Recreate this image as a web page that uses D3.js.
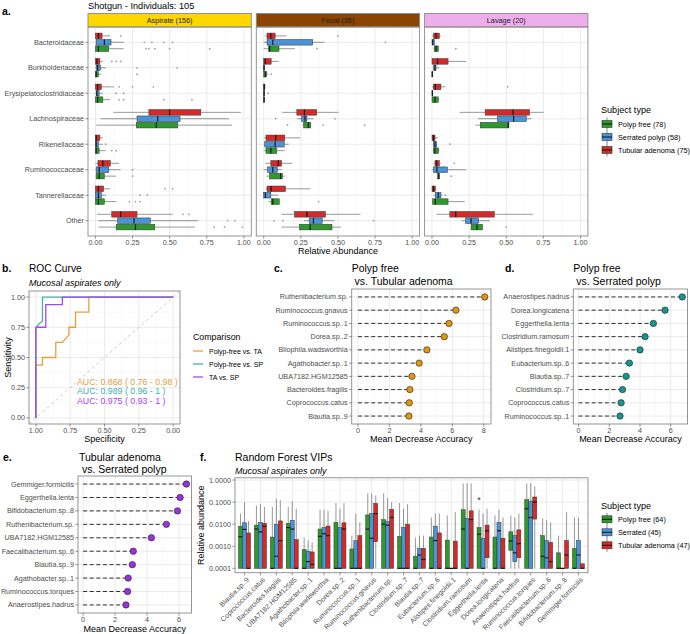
<!DOCTYPE html>
<html><head><meta charset="utf-8">
<script src="https://cdn.jsdelivr.net/npm/d3@7"></script>
<style>body{margin:0;background:#fff} text{font-family:"Liberation Sans",Arial,sans-serif}</style>
</head><body><svg id="c" width="690" height="634" xmlns="http://www.w3.org/2000/svg"></svg>
<script>
// ---------------- DATA ----------------
const families = ["Bacteroidaceae","Burkholderiaceae","Erysipelatoclostridiaceae","Lachnospiraceae","Rikenellaceae","Ruminococcaceae","Tannerellaceae","Other"];
const groupsA = ["Polyp free (78)","Serrated polyp (58)","Tubular adenoma (75)"];
const sitesA = ["Aspirate (156)","Fecal (35)","Lavage (20)"];
// per family: [PolypFree, Serrated, Tubular], each [lo, q1, median, q3, hi]
const aspirateBoxes = [
 [[0,0,0.02,0.09,0.19],[0,0.005,0.06,0.105,0.19],[0,0,0.02,0.045,0.1]],
 [[0,0,0.005,0.02,0.04],[0,0.005,0.015,0.035,0.07],[0,0,0.01,0.03,0.05]],
 [[0,0,0.015,0.05,0.1],[0,0.005,0.01,0.025,0.05],[0,0,0.015,0.04,0.11]],
 [[0.006,0.275,0.41,0.555,0.92],[0.035,0.28,0.42,0.57,0.9],[0.12,0.36,0.5,0.71,0.98]],
 [[0,0,0.005,0.025,0.07],[0,0,0.005,0.02,0.05],[0,0,0.005,0.03,0.05]],
 [[0,0.005,0.025,0.06,0.14],[0,0.005,0.025,0.09,0.17],[0,0.017,0.05,0.1,0.16]],
 [[0,0,0.02,0.06,0.14],[0,0,0.02,0.04,0.07],[0,0,0.02,0.055,0.1]],
 [[0.02,0.14,0.27,0.40,0.67],[0.02,0.15,0.26,0.37,0.69],[0.01,0.11,0.17,0.28,0.52]]
];
const fecalBoxes = [
 [[0,0.033,0.04,0.103,0.21],[0,0.022,0.061,0.33,0.41],[0.01,0.022,0.048,0.077,0.153]],
 [[0,0,0.01,0.02,0.03],[0,0,0.002,0.005,0.01],[0,0,0.01,0.05,0.1]],
 [[0,0,0.002,0.005,0.01],[0,0,0.002,0.006,0.01],[0,0,0.003,0.008,0.012]],
 [[0.26,0.269,0.30,0.317,0.32],[0.225,0.256,0.278,0.291,0.335],[0.125,0.223,0.274,0.357,0.503]],
 [[0,0.015,0.048,0.088,0.142],[0,0.007,0.077,0.138,0.168],[0,0.015,0.081,0.142,0.247]],
 [[0.018,0.039,0.114,0.125,0.142],[0,0.026,0.061,0.092,0.12],[0.011,0.048,0.098,0.12,0.193]],
 [[0.033,0.05,0.061,0.105,0.105],[0,0,0.011,0.048,0.098],[0.011,0.022,0.05,0.147,0.313]],
 [[0.12,0.24,0.313,0.46,0.52],[0.27,0.306,0.335,0.394,0.477],[0.12,0.208,0.291,0.416,0.652]]
];
const lavageBoxes = [
 [[0.01,0.015,0.027,0.042,0.045],[0,0,0.005,0.015,0.015],[0,0.011,0.027,0.049,0.06]],
 [[0,0,0.001,0.003,0.003],[0.005,0.011,0.02,0.027,0.05],[0,0,0.038,0.108,0.23]],
 [[0,0,0.02,0.042,0.05],[0,0,0.002,0.005,0.005],[0,0.009,0.022,0.06,0.09]],
 [[0.292,0.325,0.513,0.518,0.518],[0.31,0.44,0.55,0.635,0.668],[0.186,0.358,0.546,0.657,0.752]],
 [[0.005,0.011,0.02,0.044,0.05],[0.005,0.011,0.02,0.031,0.035],[0,0,0.01,0.02,0.04]],
 [[0.035,0.038,0.045,0.049,0.05],[0,0.011,0.033,0.104,0.23],[0.01,0.02,0.031,0.049,0.06]],
 [[0,0.004,0.022,0.108,0.22],[0.01,0.022,0.042,0.06,0.07],[0,0,0.01,0.022,0.03]],
 [[0.263,0.263,0.303,0.34,0.34],[0.2,0.226,0.263,0.314,0.39],[0.03,0.12,0.16,0.42,0.68]]
];
// outliers: [familyIndex, groupIndex(0 PF,1 SP,2 TA), value]
const aspirateOut = [[0,2,0.17],[0,1,0.33],[0,1,0.38],[0,1,0.46],[0,1,0.52],[0,0,0.34],[0,0,0.36],[0,0,0.4],[0,0,0.5],[0,0,0.77],
 [1,2,0.11],[1,2,0.14],[1,2,0.17],[1,1,0.55],[1,0,0.28],[1,1,0.28],
 [2,2,0.12],[2,2,0.16],[2,2,0.25],[2,2,0.39],[2,1,0.19],[2,1,0.14],[2,0,0.16],[2,0,0.19],[2,0,0.46],[2,0,0.65],
 [4,0,0.11],[4,0,0.14],[4,1,0.07],[5,1,0.25],[5,0,0.25],
 [6,2,0.47],[6,2,0.52],[6,1,0.3],[6,1,0.35],[6,0,0.23],[6,0,0.27],[6,0,0.3],
 [7,2,0.59],[7,2,0.63],[7,1,0.89],[7,1,0.94],[7,0,0.8],[7,0,0.87],[7,0,0.99]];
const fecalOut = [[0,2,0.5],[0,1,0.82],[0,0,0.36],[1,0,0.05],[2,1,0.03],[3,1,0.08],[3,1,0.48],[3,0,0.16],[3,0,0.4],[3,0,0.68],
 [7,1,0.07],[7,1,0.13],[7,1,0.74],[6,0,0.37]];
const lavageOut = [[0,0,0.16],[2,2,0.51],[4,1,0.12],[5,2,0.15],[5,0,0.13],[6,1,0.09],[7,0,0.5]];

// ROC curves: [specificity, sensitivity]
const rocNames = ["Polyp-free vs. TA","Polyp-free vs. SP","TA vs. SP"];
const rocPF_TA = [[1,0],[1,0.4375],[0.952,0.4375],[0.952,0.5],[0.855,0.5],[0.855,0.625],[0.807,0.625],[0.759,0.6875],[0.759,0.75],[0.711,0.75],[0.711,0.875],[0.614,0.875],[0.614,1],[0,1]];
const rocPF_SP = [[1,0],[1,0.74],[0.976,0.78],[0.952,0.8],[0.952,1],[0,1]];
const rocTA_SP = [[1,0],[1,0.75],[0.928,0.75],[0.928,0.9375],[0.807,0.9375],[0.807,1],[0,1]];
const aucLabels = ["AUC: 0.868 ( 0.76 - 0.98 )","AUC: 0.989 ( 0.96 - 1 )","AUC: 0.975 ( 0.93 - 1 )"];

// Mean decrease accuracy
const lolC_names = ["Ruthenibacterium.sp.","Ruminococcus.gnavus","Ruminococcus.sp..1","Dorea.sp..2","Bilophila.wadsworthia","Agathobacter.sp..1","UBA7182.HGM12585","Bacteroides.fragilis","Coprococcus.catus","Blautia.sp..9"];
const lolC_vals = [8.06,6.23,5.79,5.49,4.38,3.89,3.43,3.3,3.26,3.24];
const lolD_names = ["Anaerostipes.hadrus","Dorea.longicatena","Eggerthella.lenta","Clostridium.ramosum","Alistipes.finegoldii.1","Eubacterium.sp..6","Blautia.sp..7","Clostridium.sp..7","Coprococcus.catus","Ruminococcus.sp..1"];
const lolD_vals = [6.75,5.63,4.87,4.33,4.0,3.31,3.1,2.86,2.77,2.7];
const lolE_names = ["Gemmiger.formicilis","Eggerthella.lenta","Bifidobacterium.sp..8","Ruthenibacterium.sp.","UBA7182.HGM12585","Faecalibacterium.sp..6","Blautia.sp..9","Agathobacter.sp..1","Ruminococcus.torques","Anaerostipes.hadrus"];
const lolE_vals = [6.46,6.07,5.9,5.21,4.27,3.14,3.08,2.82,2.78,2.68];

// Random forest VIPs: [q1, median, q3, upper whisker]
const vipTaxa = ["Blautia.sp..9","Coprococcus.catus","Bacteroides.fragilis","UBA7182.HGM12585","Agathobacter.sp..1","Bilophila.wadsworthia","Dorea.sp..2","Ruminococcus.sp..1","Ruminococcus.gnavus","Ruthenibacterium.sp.","Clostridium.sp..7","Blautia.sp..7","Eubacterium.sp..6","Alistipes.finegoldii.1","Clostridium.ramosum","Eggerthella.lenta","Dorea.longicatena","Anaerostipes.hadrus","Ruminococcus.torques","Faecalibacterium.sp..6","Bifidobacterium.sp..8","Gemmiger.formicilis"];
const groupsF = ["Polyp free (64)","Serrated (45)","Tubular adenoma (47)"];
const vipPF = [[1e-4,0.0027,0.008,0.03],[1e-4,0.006,0.009,0.07],[1e-4,1e-4,0.0026,0.06],[1e-4,0.007,0.011,0.06],[1e-4,1e-4,0.0007,0.0025],[1e-4,0.0028,0.006,0.045],[1e-4,1e-4,0.012,0.09],[1e-4,1e-4,0.00075,0.003],[1e-4,0.006,0.026,0.25],[1e-4,0.01,0.016,0.25],[1e-4,1e-4,0.0028,0.09],[1e-4,1e-4,0.00035,0.0025],[1e-4,1e-4,0.0026,0.02],[1e-4,1e-4,0.0019,0.025],[1e-4,0.006,0.045,0.7],[1e-4,0.0035,0.007,0.045],[1e-4,1e-4,0.0026,0.025],[0.00065,0.0017,0.0045,0.025],[1e-4,0.05,0.13,0.7],[1e-4,0.00035,0.003,0.018],[1e-4,1e-4,0.0005,0.003],[1e-4,1e-4,0.0008,0.02]];
const vipSP = [[1e-4,0.0058,0.0115,0.1],[1e-4,0.0045,0.012,0.08],[1e-4,0.00035,0.01,0.14],[1e-4,0.006,0.015,0.11],[1e-4,0.0002,0.0006,0.0018],[1e-4,0.0037,0.007,0.045],[1e-4,1e-4,0.007,0.05],[1e-4,1e-4,0.0018,0.03],[1e-4,0.0023,0.03,0.25],[1e-4,0.009,0.013,0.15],[1e-4,1e-4,0.007,0.05],[1e-4,0.0004,0.0008,0.003],[1e-4,0.0018,0.008,0.03],[1e-4,1e-4,1e-4,1e-4],[1e-4,1e-4,0.018,0.7],[1e-4,1e-4,0.0023,0.03],[1e-4,0.005,0.012,0.045],[0.0002,0.0005,0.003,0.02],[1e-4,0.02,0.11,0.7],[1e-4,0.0003,0.0018,0.015],[1e-4,1e-4,1e-4,1e-4],[1e-4,0.0004,0.0018,0.02]];
const vipTA = [[1e-4,1e-4,0.004,0.014],[1e-4,0.008,0.011,0.06],[1e-4,0.0018,0.014,0.12],[1e-4,1e-4,0.002,0.05],[1e-4,0.00015,0.00055,0.0015],[1e-4,0.003,0.0082,0.04],[1e-4,0.006,0.0115,0.09],[1e-4,1e-4,0.003,0.012],[0.0016,0.03,0.087,0.2],[1e-4,0.02,0.047,0.1],[1e-4,1e-4,0.01,0.08],[1e-4,0.00025,0.0008,0.003],[1e-4,1e-4,0.004,0.03],[1e-4,1e-4,0.0017,0.035],[1e-4,0.016,0.04,0.7],[0.0003,0.005,0.009,0.05],[1e-4,1e-4,0.0023,0.02],[0.0003,0.0013,0.0055,0.03],[0.017,0.1,0.17,0.5],[1e-4,0.0002,0.0015,0.012],[1e-4,0.0004,0.0018,0.035],[1e-4,1e-4,0.00016,0.00016]];
const vipTicks = [1e-4,1e-3,1e-2,1e-1,1];
const vipTickLabels = ["0.0001","0.0010","0.0100","0.1000","1.0000"];

// ---------------- STYLE ----------------
const svg = d3.select("#c");
svg.append("rect").attr("width",690).attr("height",634).attr("fill","#fff");
const gcol = ["#2c9a2c","#4a93d6","#d52a2a"];
const gridMaj="#e8e8e8", gridMin="#f3f3f3", border="#8a8a8a", tickCol="#4d4d4d";

function T(x,y,s,o={}){
  const t = svg.append("text").attr("x",x).attr("y",y).text(s)
    .attr("font-size",o.size||7.2).attr("fill",o.fill||tickCol)
    .attr("text-anchor",o.anchor||"start").attr("font-weight",o.weight||"normal")
    .attr("font-style",o.style||"normal");
  if(o.rotate!==undefined) t.attr("transform",`rotate(${o.rotate},${x},${y})`);
  return t;
}
function L(x1,y1,x2,y2,c,w,dash){
  const l = svg.append("line").attr("x1",x1).attr("y1",y1).attr("x2",x2).attr("y2",y2).attr("stroke",c).attr("stroke-width",w);
  if(dash) l.attr("stroke-dasharray",dash);
  return l;
}
function frame(x,y,w,h){ svg.append("rect").attr("x",x).attr("y",y).attr("width",w).attr("height",h).attr("fill","none").attr("stroke",border).attr("stroke-width",0.9); }
function boxKey(x,y,color){
  L(x+5,y-6.5,x+5,y+6.5,"#333",0.6);
  svg.append("rect").attr("x",x).attr("y",y-3.5).attr("width",10).attr("height",7).attr("fill",color).attr("stroke","#333").attr("stroke-width",0.6);
  L(x,y,x+10,y,"#111",1);
}

// ---------------- PANEL A ----------------
T(2,15,"a.",{size:10.5,weight:"bold",fill:"#000"});
T(88,9,"Shotgun - Individuals: 105",{size:9.2,fill:"#000"});
const aStripTop=13.5, aTop=27, aBot=236, aLeft=88, aW=163.3, aGap=5;
const yA = d3.scalePoint().domain(families).range([aTop,aBot]).padding(0.6);
const offA=[6.4,0,-6.4], bhA=5.6;
const siteData=[aspirateBoxes,fecalBoxes,lavageBoxes];
const siteOut=[aspirateOut,fecalOut,lavageOut];
const stripFill=["#FFD700","#8B4500","#EEAEEE"];
sitesA.forEach((site,si)=>{
  const x0=aLeft+si*(aW+aGap);
  const x=d3.scaleLinear().domain([-0.05,1.05]).range([x0,x0+aW]);
  svg.append("rect").attr("x",x0).attr("y",aStripTop).attr("width",aW).attr("height",aTop-aStripTop).attr("fill",stripFill[si]).attr("stroke",border).attr("stroke-width",0.9);
  T(x0+aW/2,(aStripTop+aTop)/2+2.6,site,{size:7.3,fill:"#1a1a1a",anchor:"middle"});
  [0.125,0.375,0.625,0.875].forEach(v=>L(x(v),aTop,x(v),aBot,gridMin,0.5));
  [0,0.25,0.5,0.75,1].forEach(v=>L(x(v),aTop,x(v),aBot,gridMaj,0.9));
  families.forEach(f=>L(x0,yA(f),x0+aW,yA(f),gridMaj,0.9));
  siteOut[si].forEach(([fi,gi,v])=>svg.append("circle").attr("cx",x(v)).attr("cy",yA(families[fi])+offA[gi]).attr("r",0.9).attr("fill","#a0a0a0"));
  siteData[si].forEach((fam,fi)=>fam.forEach((b,gi)=>{
    const [lo,q1,med,q3,hi]=b; const cy=yA(families[fi])+offA[gi];
    L(x(lo),cy,x(q1),cy,"#333",0.5); L(x(q3),cy,x(hi),cy,"#333",0.5);
    svg.append("rect").attr("x",x(q1)).attr("y",cy-bhA/2).attr("width",Math.max(x(q3)-x(q1),0.8)).attr("height",bhA)
      .attr("fill",gcol[gi]).attr("stroke","#333").attr("stroke-width",0.5);
    L(x(med),cy-bhA/2,x(med),cy+bhA/2,"#111",1.1);
  }));
  frame(x0,aTop,aW,aBot-aTop);
  [0,0.25,0.5,0.75,1].forEach(v=>{ L(x(v),aBot,x(v),aBot+2.7,"#333",0.5); T(x(v),aBot+8.8,d3.format(".2f")(v),{anchor:"middle"}); });
});
families.forEach(f=>{ L(aLeft-2.7,yA(f),aLeft,yA(f),"#333",0.5); T(aLeft-4,yA(f)+2.5,f,{anchor:"end"}); });
T(aLeft+(3*aW+2*aGap)/2,254,"Relative Abundance",{size:9,fill:"#000",anchor:"middle"});
T(601,113,"Subject type",{size:9.1,fill:"#000"});
groupsA.forEach((g,i)=>{ const y=124+i*13; boxKey(602,y,gcol[i]); T(618,y+2.6,g,{size:7.3,fill:"#000"}); });

// ---------------- PANEL B (ROC) ----------------
T(2,272,"b.",{size:10.5,weight:"bold",fill:"#000"});
T(29,272,"ROC Curve",{size:10.2,fill:"#000"});
T(29,286,"Mucosal aspirates only",{size:9,fill:"#000",style:"italic"});
const bL=29, bR=180, bT=291, bB=424;
const xB=d3.scaleLinear().domain([1.05,-0.05]).range([bL,bR]);
const yB=d3.scaleLinear().domain([-0.05,1.05]).range([bB,bT]);
[0.125,0.375,0.625,0.875].forEach(v=>{L(xB(v),bT,xB(v),bB,gridMin,0.5);L(bL,yB(v),bR,yB(v),gridMin,0.5);});
[0,0.25,0.5,0.75,1].forEach(v=>{L(xB(v),bT,xB(v),bB,gridMaj,0.9);L(bL,yB(v),bR,yB(v),gridMaj,0.9);});
L(xB(1.05),yB(-0.05),xB(-0.05),yB(1.05),"#bdbdbd",0.8,"3,3");
const rocCols=["#E5A03A","#40B3A7","#A346F5"];
const rocLine=d3.line().x(d=>xB(d[0])).y(d=>yB(d[1]));
[rocPF_TA,rocPF_SP,rocTA_SP].forEach((r,i)=>svg.append("path").attr("d",rocLine(r)).attr("fill","none").attr("stroke",rocCols[i]).attr("stroke-width",1.3));
aucLabels.forEach((s,i)=>T(77,385+i*9.3,s,{size:8.8,fill:rocCols[i]}));
frame(bL,bT,bR-bL,bB-bT);
[0,0.25,0.5,0.75,1].forEach(v=>{
  L(xB(v),bB,xB(v),bB+2.7,"#333",0.5); T(xB(v),bB+9.3,d3.format(".2f")(v),{anchor:"middle"});
  L(bL-2.7,yB(v),bL,yB(v),"#333",0.5); T(bL-4,yB(v)+2.5,d3.format(".2f")(v),{anchor:"end"});
});
T((bL+bR)/2,442,"Specificity",{size:9,fill:"#000",anchor:"middle"});
T(11,(bT+bB)/2,"Sensitivity",{size:9,fill:"#000",anchor:"middle",rotate:-90});
T(193,340,"Comparison",{size:8.8,fill:"#000"});
rocNames.forEach((n,i)=>{ const y=351+i*13; L(193,y,203,y,rocCols[i],1.3); T(209,y+2.5,n,{size:7,fill:"#000"}); });

// ---------------- LOLLIPOPS ----------------
function lollipop(o){
  const {names,vals,left,right,top,bottom,domain,ticks,fill}=o;
  const x=d3.scaleLinear().domain(domain).range([left,right]);
  const y=d3.scalePoint().domain(names).range([top,bottom]).padding(0.6);
  ticks.slice(0,-1).forEach((t,i)=>{ const m=(t+ticks[i+1])/2; L(x(m),top,x(m),bottom,gridMin,0.5); });
  ticks.forEach(t=>L(x(t),top,x(t),bottom,gridMaj,0.9));
  names.forEach(n=>L(left,y(n),right,y(n),gridMaj,0.9));
  names.forEach((n,i)=>{
    L(x(0),y(n),x(vals[i]),y(n),"#1a1a1a",0.9,"4,2.6");
  });
  names.forEach((n,i)=>svg.append("circle").attr("cx",x(vals[i])).attr("cy",y(n)).attr("r",3.2).attr("fill",fill).attr("stroke","#222").attr("stroke-width",0.6));
  frame(left,top,right-left,bottom-top);
  ticks.forEach(t=>{ L(x(t),bottom,x(t),bottom+2.7,"#333",0.5); T(x(t),bottom+9.3,String(t),{anchor:"middle"}); });
  names.forEach(n=>{ L(left-2.7,y(n),left,y(n),"#333",0.5); T(left-4,y(n)+2.5,n,{size:7.2,anchor:"end"}); });
  T((left+right)/2,o.titleY,"Mean Decrease Accuracy",{size:9,fill:"#000",anchor:"middle"});
}
T(274,272,"c.",{size:10.5,weight:"bold",fill:"#000"});
T(351.7,272,"Polyp free",{size:10.5,fill:"#000"});
T(351.7,284.5," vs. Tubular adenoma",{size:10.5,fill:"#000"}).attr("xml:space","preserve");
lollipop({names:lolC_names,vals:lolC_vals,left:351.7,right:491,top:289,bottom:424,domain:[-0.4,8.46],ticks:[0,2,4,6,8],fill:"#E0960F",titleY:442});
T(505,272,"d.",{size:10.5,weight:"bold",fill:"#000"});
T(573.3,272,"Polyp free",{size:10.5,fill:"#000"});
T(573.3,284.5," vs. Serrated polyp",{size:10.5,fill:"#000"}).attr("xml:space","preserve");
lollipop({names:lolD_names,vals:lolD_vals,left:573.3,right:687.5,top:289,bottom:424,domain:[-0.34,7.09],ticks:[0,2,4,6],fill:"#14968F",titleY:442});
T(3,461,"e.",{size:10.5,weight:"bold",fill:"#000"});
T(79,460.5,"Tubular adenoma",{size:10.5,fill:"#000"});
T(79,472.5," vs. Serrated polyp",{size:10.5,fill:"#000"}).attr("xml:space","preserve");
lollipop({names:lolE_names,vals:lolE_vals,left:78,right:191.5,top:476,bottom:613,domain:[-0.32,6.78],ticks:[0,2,4,6],fill:"#9B30E3",titleY:632});

// ---------------- PANEL F ----------------
T(200,461,"f.",{size:10.5,weight:"bold",fill:"#000"});
T(235,461,"Random Forest VIPs",{size:10.5,fill:"#000"});
T(235,474,"Mucosal aspirates only",{size:9,fill:"#000",style:"italic"});
const fL=235, fR=588, fT=477.8, fB=572.7;
const xF=d3.scalePoint().domain(vipTaxa).range([fL,fR]).padding(0.6);
const yF=d3.scaleLog().domain([Math.pow(10,-4.2),Math.pow(10,0.1)]).range([fB,fT]);
[-3.5,-2.5,-1.5,-0.5].forEach(e=>L(fL,yF(Math.pow(10,e)),fR,yF(Math.pow(10,e)),gridMin,0.5));
vipTicks.forEach(v=>L(fL,yF(v),fR,yF(v),gridMaj,0.9));
vipTaxa.forEach(t=>L(xF(t),fT,xF(t),fB,gridMaj,0.9));
const bw=4, offF=[-4,0,4];
[vipPF,vipSP,vipTA].forEach((arr,gi)=>arr.forEach((b,i)=>{
  const [q1,med,q3,hi]=b; const cx=xF(vipTaxa[i])+offF[gi];
  if(hi>q3) L(cx,yF(q3),cx,yF(hi),"#333",0.5);
  if(q1>1e-4) L(cx,yF(1e-4),cx,yF(q1),"#333",0.5);
  svg.append("rect").attr("x",cx-bw/2).attr("y",yF(q3)).attr("width",bw).attr("height",Math.max(yF(q1)-yF(q3),0.5))
    .attr("fill",gcol[gi]).attr("stroke","#333").attr("stroke-width",0.5);
  L(cx-bw/2,yF(med),cx+bw/2,yF(med),"#111",1.1);
}));
T(xF("Eggerthella.lenta")-4,502.5,"*",{size:9,fill:"#333",anchor:"middle"});
frame(fL,fT,fR-fL,fB-fT);
vipTicks.forEach((v,i)=>{ L(fL-2.7,yF(v),fL,yF(v),"#333",0.5); T(fL-4,yF(v)+2.5,vipTickLabels[i],{anchor:"end"}); });
vipTaxa.forEach(t=>{
  const x=xF(t); L(x,fB,x,fB+2.7,"#333",0.5);
  svg.append("text").attr("transform",`translate(${x+1.5},${fB+4}) rotate(-45)`).attr("dy","0.7em")
    .attr("text-anchor","end").attr("font-size",7).attr("fill",tickCol).text(t);
});
T(204,(fT+fB)/2,"Relative abundance",{size:9,fill:"#000",anchor:"middle",rotate:-90});
T(601,509,"Subject type",{size:9.1,fill:"#000"});
groupsF.forEach((g,i)=>{ const y=519.3+i*13; boxKey(602,y,gcol[i]); T(618,y+2.6,g,{size:7.3,fill:"#000"}); });
</script></body></html>
